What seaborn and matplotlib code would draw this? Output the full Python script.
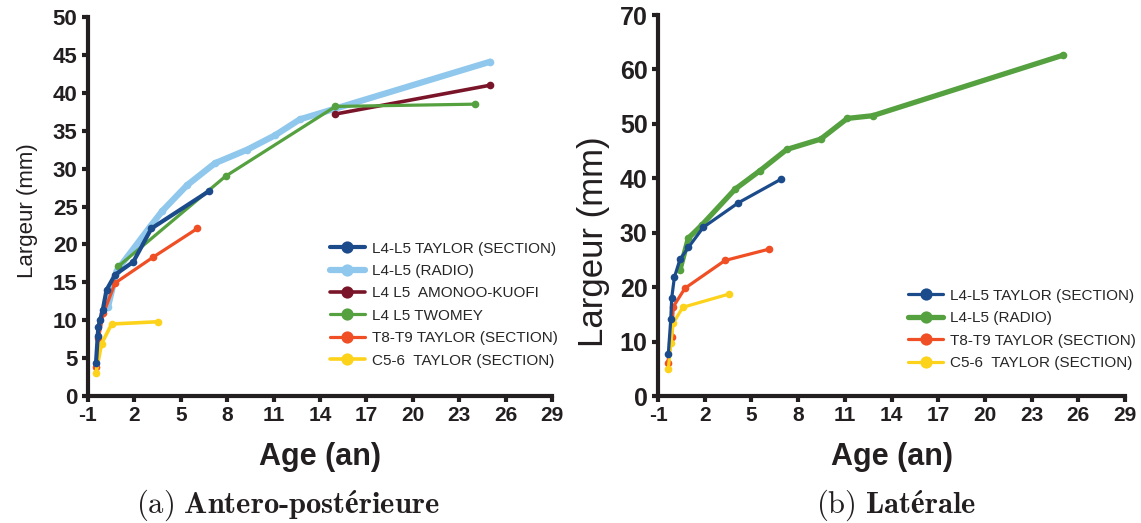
import matplotlib
matplotlib.use("Agg")
import matplotlib.pyplot as plt
import seaborn as sns

sns.set_style("ticks")
plt.rcParams["font.family"] = ["Liberation Sans", "DejaVu Sans"]
plt.rcParams["mathtext.fontset"] = "cm"

ink = "#231f20"

# (a) antero-posterieure
ap_taylor_x = [-0.48, -0.37, -0.33, -0.22, -0.05, 0.2, 0.75, 1.93, 3.1, 6.8]
ap_taylor_y = [4.4, 7.9, 9.1, 10.0, 11.3, 14.0, 16.0, 17.7, 22.1, 27.0]
ap_radio_x = [0.3, 0.85, 3.0, 3.8, 5.4, 7.2, 9.3, 11.1, 12.7, 25.0]
ap_radio_y = [11.8, 16.5, 22.3, 24.4, 27.8, 30.7, 32.5, 34.4, 36.5, 44.1]
ap_amonoo_x = [15.0, 25.0]
ap_amonoo_y = [37.2, 41.0]
ap_twomey_x = [0.96, 7.9, 15.0, 24.0]
ap_twomey_y = [17.1, 29.0, 38.2, 38.5]
ap_t8_x = [-0.48, -0.33, 0.0, 0.75, 3.2, 6.07]
ap_t8_y = [3.8, 7.6, 10.9, 14.9, 18.3, 22.1]
ap_c5_x = [-0.48, -0.12, 0.53, 3.55]
ap_c5_y = [3.1, 6.9, 9.5, 9.8]

# (b) laterale
lat_taylor_x = [-0.34, -0.18, -0.12, 0.05, 0.41, 0.95, 1.91, 4.16, 6.88]
lat_taylor_y = [7.7, 14.1, 18.0, 21.8, 25.1, 27.3, 31.0, 35.5, 39.8]
lat_radio_x = [0.41, 0.95, 1.81, 3.95, 5.55, 7.27, 9.45, 11.16, 12.79, 25.0]
lat_radio_y = [23.2, 29.0, 31.4, 38.0, 41.4, 45.3, 47.2, 51.0, 51.5, 62.6]
lat_t8_x = [-0.38, -0.12, -0.02, 0.73, 3.3, 6.15]
lat_t8_y = [6.0, 10.9, 16.4, 19.8, 24.9, 27.0]
lat_c5_x = [-0.34, -0.17, -0.02, 0.59, 3.58]
lat_c5_y = [5.0, 9.7, 13.4, 16.3, 18.75]

xticks = [-1, 2, 5, 8, 11, 14, 17, 20, 23, 26, 29]

c_blue = "#1c4b8b"
c_light = "#8fc8ec"
c_red = "#7a1529"
c_green = "#55a03f"
c_orange = "#f04e24"
c_yellow = "#fdd21a"

fig = plt.figure(figsize=(11.41, 5.23), dpi=100)
ax1 = fig.add_axes([0.0771, 0.2428, 0.4067, 0.7247])
ax2 = fig.add_axes([0.5767, 0.2428, 0.4093, 0.7285])

left_series = [
    (ap_taylor_x, ap_taylor_y, c_blue, 3.0, "L4-L5 TAYLOR (SECTION)"),
    (ap_radio_x, ap_radio_y, c_light, 4.5, "L4-L5 (RADIO)"),
    (ap_amonoo_x, ap_amonoo_y, c_red, 2.6, "L4 L5  AMONOO-KUOFI"),
    (ap_twomey_x, ap_twomey_y, c_green, 2.3, "L4 L5 TWOMEY"),
    (ap_t8_x, ap_t8_y, c_orange, 2.3, "T8-T9 TAYLOR (SECTION)"),
    (ap_c5_x, ap_c5_y, c_yellow, 2.6, "C5-6  TAYLOR (SECTION)"),
]
right_series = [
    (lat_taylor_x, lat_taylor_y, c_blue, 2.3, "L4-L5 TAYLOR (SECTION)"),
    (lat_radio_x, lat_radio_y, c_green, 3.8, "L4-L5 (RADIO)"),
    (lat_t8_x, lat_t8_y, c_orange, 2.3, "T8-T9 TAYLOR (SECTION)"),
    (lat_c5_x, lat_c5_y, c_yellow, 2.3, "C5-6  TAYLOR (SECTION)"),
]

# dark blue sits on top like in the original
for ax, series in [(ax1, left_series), (ax2, right_series)]:
    for xs, ys, col, lw, lab in series:
        z = 5 if col == c_blue else 3
        sns.lineplot(x=xs, y=ys, ax=ax, color=col, lw=lw, marker="o",
                     markersize=5.5, markeredgewidth=0, label=lab, zorder=z)

for ax, ymax, ystep, ytick_fs, ylab_fs, ylab_xy in [(ax1, 50, 5, 16, 16, (-0.108, 0.49)),
                                                    (ax2, 70, 10, 18, 25, (-0.103, 0.404))]:
    ax.set_xlim(-1, 29)
    ax.set_ylim(0, ymax)
    ax.set_xticks(xticks)
    ax.set_xticklabels([str(t) for t in xticks], fontsize=15, fontweight="bold", color=ink)
    yt = list(range(0, ymax + 1, ystep))
    ax.set_yticks(yt)
    ax.set_yticklabels([str(t) for t in yt], fontsize=ytick_fs, fontweight="bold", color=ink)
    for s in ["top", "right"]:
        ax.spines[s].set_visible(False)
    for s in ["left", "bottom"]:
        ax.spines[s].set_linewidth(3)
        ax.spines[s].set_color(ink)
    ax.tick_params(direction="out", length=4.5, width=3, color=ink, pad=3)
    ax.set_xlabel("Age (an)", fontsize=22, fontweight="bold", color=ink, labelpad=12)
    ax.set_ylabel("Largeur (mm)", fontsize=ylab_fs, color=ink)
    ax.yaxis.set_label_coords(*ylab_xy)
    ax.get_legend().remove()

h, l = ax1.get_legend_handles_labels()
fig.legend(h, l, loc="upper left", bbox_to_anchor=(0.289, 0.538), frameon=False,
           fontsize=11, handlelength=2.3, handletextpad=0.45, labelspacing=0.55,
           borderpad=0, borderaxespad=0, markerscale=1.6)
h, l = ax2.get_legend_handles_labels()
fig.legend(h, l, loc="upper left", bbox_to_anchor=(0.796, 0.448), frameon=False,
           fontsize=11, handlelength=2.3, handletextpad=0.45, labelspacing=0.55,
           borderpad=0, borderaxespad=0, markerscale=1.6)

fig.text(0.252, 0.034, r"$\mathrm{(a)}\ \mathbf{Antero}$-$\mathbf{postérieure}$",
         ha="center", va="center", fontsize=22, family="cmb10", color=ink)
fig.text(0.785, 0.034, r"$\mathrm{(b)}\ \mathbf{Latérale}$",
         ha="center", va="center", fontsize=22, family="cmb10", color=ink)

fig.savefig("out.png", dpi=100)
